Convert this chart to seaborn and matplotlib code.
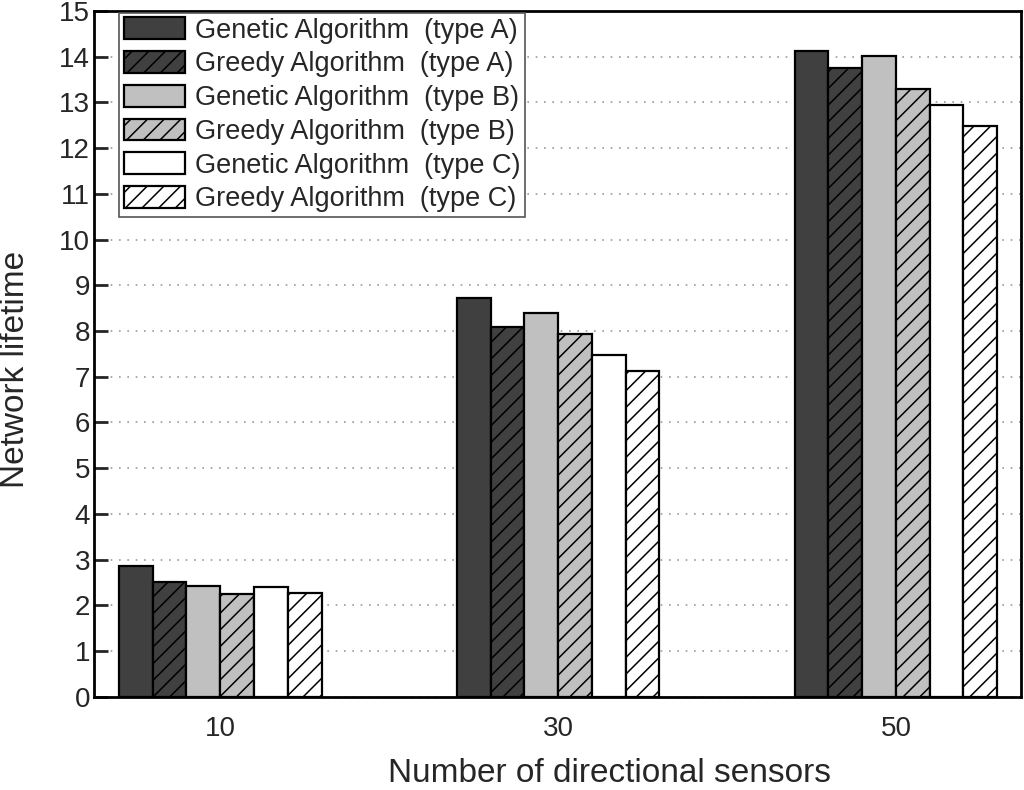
import matplotlib
matplotlib.use("Agg")
import matplotlib.pyplot as plt
import pandas as pd
import seaborn as sns

# data
sensors = ["10", "30", "50"]
methods = [
    "Genetic Algorithm  (type A)",
    "Greedy Algorithm  (type A)",
    "Genetic Algorithm  (type B)",
    "Greedy Algorithm  (type B)",
    "Genetic Algorithm  (type C)",
    "Greedy Algorithm  (type C)",
]
lifetime = [
    [2.85, 8.72, 14.12],   # genetic A
    [2.51, 8.09, 13.76],   # greedy A
    [2.43, 8.40, 14.02],   # genetic B
    [2.24, 7.94, 13.30],   # greedy B
    [2.41, 7.48, 12.95],   # genetic C
    [2.28, 7.13, 12.48],   # greedy C
]
colors = ["#404040", "#404040", "#c0c0c0", "#c0c0c0", "#ffffff", "#ffffff"]
hatches = ["", "//", "", "//", "", "//"]

rows = []
for m, vals in zip(methods, lifetime):
    for s, v in zip(sensors, vals):
        rows.append({"sensors": s, "method": m, "lifetime": v})
df = pd.DataFrame(rows)

sns.set_style("white")
plt.rcParams["font.family"] = ["Liberation Sans", "DejaVu Sans"]
plt.rcParams["hatch.linewidth"] = 1.1

fig = plt.figure(figsize=(10.24, 7.9), dpi=100)
ax = fig.add_axes([0.092, 0.118, 0.905, 0.868])

sns.barplot(
    data=df,
    x="sensors",
    y="lifetime",
    hue="method",
    hue_order=methods,
    order=sensors,
    palette=colors,
    width=0.6,
    gap=0,
    edgecolor="black",
    linewidth=1.6,
    legend=False,
    ax=ax,
)

for cont, h in zip(ax.containers, hatches):
    for bar in cont:
        bar.set_hatch(h)

ax.set_xlim(-0.373, 2.37)
ax.set_ylim(0, 15)
ax.set_yticks(range(0, 16))
ax.yaxis.grid(True, linestyle=(0, (1, 4)), color="#999999", linewidth=1.2)
ax.set_axisbelow(True)

for sp in ax.spines.values():
    sp.set_visible(True)
    sp.set_color("black")
    sp.set_linewidth(2)

ax.tick_params(axis="y", direction="in", length=10, width=2,
               labelsize=20, pad=3, left=True)
ax.tick_params(axis="x", length=0, labelsize=20, pad=14)

ax.set_xlabel("Number of directional sensors", fontsize=24)
ax.xaxis.set_label_coords(0.556, -0.089)
ax.set_ylabel("Network lifetime", fontsize=24)
ax.yaxis.set_label_coords(-0.068, 0.477)

leg = ax.legend(
    handles=ax.containers,
    labels=methods,
    loc="upper left",
    bbox_to_anchor=(0.027, 0.997),
    borderaxespad=0,
    fontsize=19.5,
    frameon=True,
    fancybox=False,
    edgecolor="#555555",
    framealpha=1,
    handlelength=2.25,
    handleheight=0.85,
    handletextpad=0.4,
    labelspacing=0.28,
    borderpad=0.16,
)
leg.get_frame().set_linewidth(1.2)

fig.savefig("out.png", dpi=100)
